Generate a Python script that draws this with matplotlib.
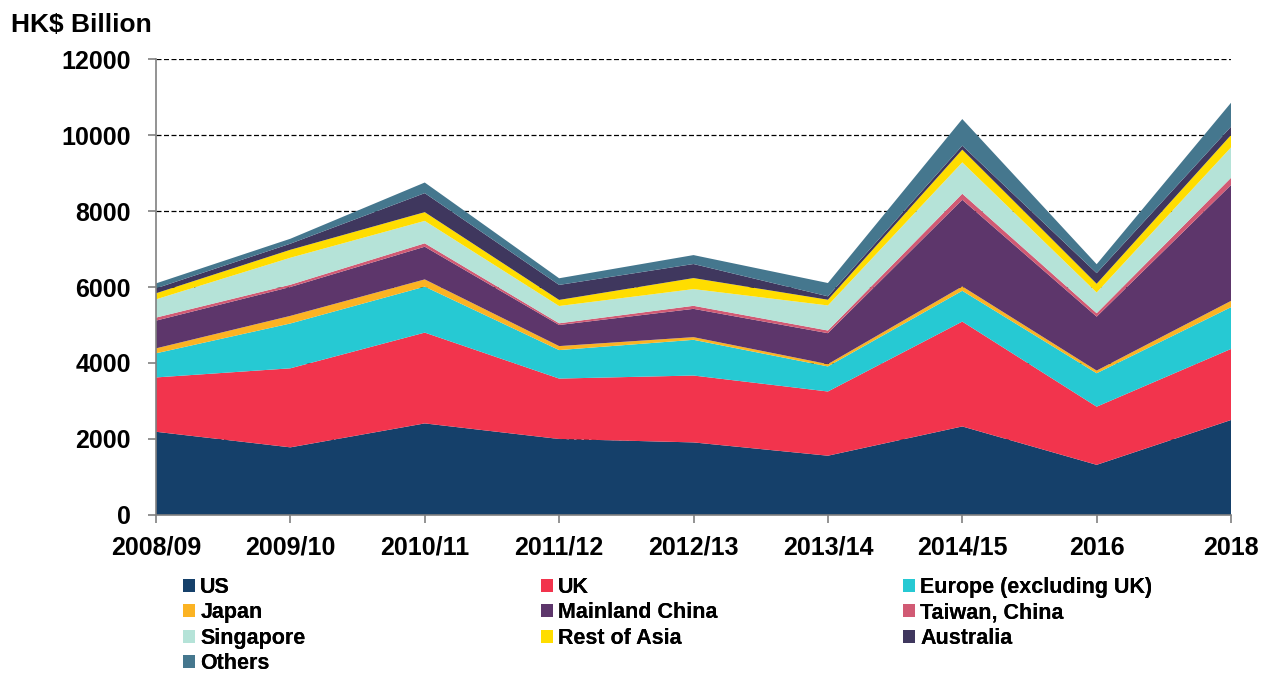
import numpy as np
import matplotlib
matplotlib.use("Agg")
import matplotlib.pyplot as plt
from matplotlib.patches import Patch

plt.rcParams['font.family'] = ['Liberation Sans', 'DejaVu Sans']
plt.rcParams['font.weight'] = 'bold'

periods = ["2008/09", "2009/10", "2010/11", "2011/12", "2012/13",
           "2013/14", "2014/15", "2016", "2018"]

# HK$ billion
us = [2190, 1780, 2410, 2000, 1910, 1560, 2330, 1320, 2500]
uk = [1430, 2080, 2390, 1590, 1760, 1690, 2760, 1530, 1870]
europe = [635, 1180, 1210, 750, 940, 660, 810, 880, 1100]
japan = [130, 200, 190, 105, 70, 60, 115, 70, 165]
mainland = [730, 760, 860, 555, 745, 815, 2280, 1420, 3050]
taiwan = [80, 60, 90, 45, 80, 70, 160, 90, 190]
singapore = [480, 710, 590, 455, 440, 660, 825, 545, 800]
rest_asia = [160, 210, 230, 160, 290, 150, 335, 230, 325]
australia = [130, 160, 500, 395, 370, 90, 105, 280, 220]
others = [130, 130, 280, 175, 235, 350, 700, 235, 630]

names = ["US", "UK", "Europe (excluding UK)", "Japan", "Mainland China",
         "Taiwan, China", "Singapore", "Rest of Asia", "Australia", "Others"]
series = [us, uk, europe, japan, mainland, taiwan, singapore, rest_asia,
          australia, others]
colors = ["#15406a", "#f2344d", "#26c9d3", "#fbb323", "#5d366b",
          "#d15a74", "#b5e3d8", "#ffdd00", "#3f375e", "#45778e"]

fig = plt.figure(figsize=(12.63, 6.73), dpi=100)
ax = fig.add_axes([0.1235, 0.2348, 0.8512, 0.6775])

x = np.arange(len(periods))
ax.stackplot(x, *series, colors=colors, linewidth=0, zorder=2)

ax.set_xlim(0, len(periods) - 1)
ax.set_ylim(0, 12000)
ax.set_yticks(range(0, 12001, 2000))
ax.set_xticks(x)
ax.set_xticklabels(periods)
ax.yaxis.grid(True, linestyle=(0, (4, 2)), color='black', linewidth=0.9, zorder=0)
ax.set_axisbelow(True)

for s in ['top', 'right']:
    ax.spines[s].set_visible(False)
for s in ['left', 'bottom']:
    ax.spines[s].set_color('#808080')
    ax.spines[s].set_linewidth(1.2)
ax.tick_params(axis='both', colors='#808080', length=6, width=1.2,
               labelcolor='black', labelsize=18)
ax.tick_params(axis='y', pad=12)
ax.tick_params(axis='x', pad=9)

fig.text(0.009, 0.963, "HK$ Billion", fontsize=19, fontweight='bold',
         ha='left', va='center')

# legend laid out as three columns, filled row by row
col_x = [0.1449, 0.4283, 0.715]
for c in range(3):
    idx = list(range(c, len(names), 3))
    handles = [Patch(facecolor=colors[i], edgecolor='none') for i in idx]
    leg = fig.legend(handles, [names[i] for i in idx], loc='upper left',
                     bbox_to_anchor=(col_x[c], 0.1425), frameon=False,
                     fontsize=15.5, handlelength=0.55, handleheight=0.55,
                     handletextpad=0.25, labelspacing=0.2,
                     borderaxespad=0, borderpad=0)
    fig.add_artist(leg)

fig.savefig("out.png", dpi=100)
